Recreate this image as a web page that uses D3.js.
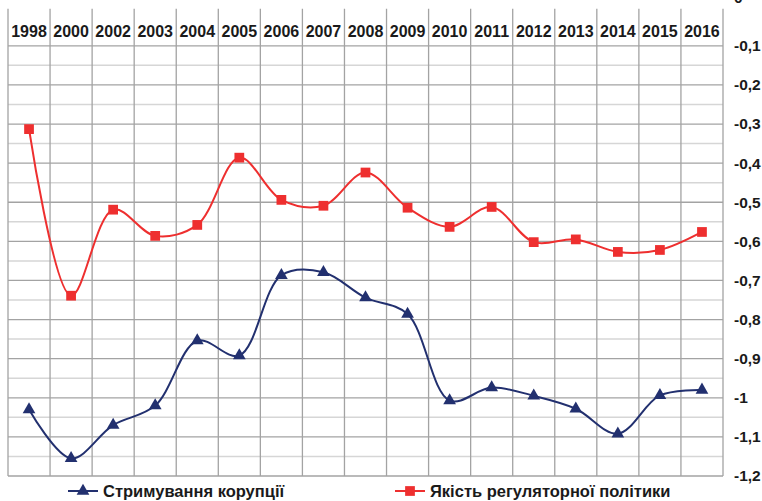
<!DOCTYPE html>
<html>
<head>
<meta charset="utf-8">
<script src="https://cdn.jsdelivr.net/npm/d3@7"></script>
<style>
  body { margin: 0; background: #fff; }
  text { font-family: "Liberation Sans", Arial, sans-serif; font-weight: bold; fill: #1a1a1a; }
</style>
</head>
<body>
<div id="chart"></div>
<script>
// Years shown in the header row
const years = ["1998", "2000", "2002", "2003", "2004", "2005", "2006", "2007", "2008",
               "2009", "2010", "2011", "2012", "2013", "2014", "2015", "2016"];

// Стримування корупції (Control of Corruption)
const corruption = [-1.03, -1.155, -1.07, -1.02, -0.854, -0.892, -0.687, -0.679, -0.744,
                    -0.786, -1.007, -0.974, -0.995, -1.028, -1.092, -0.994, -0.98];

// Якість регуляторної політики (Regulatory Quality)
const regulatory = [-0.313, -0.739, -0.519, -0.586, -0.558, -0.386, -0.494, -0.509, -0.424,
                    -0.514, -0.563, -0.512, -0.602, -0.595, -0.627, -0.622, -0.576];

const yTicks = [0, -0.1, -0.2, -0.3, -0.4, -0.5, -0.6, -0.7, -0.8, -0.9, -1, -1.1, -1.2];
const yMinor = [-0.15, -0.25, -0.35, -0.45, -0.55, -0.65, -0.75, -0.85, -0.95, -1.05, -1.15];

const seriesNames = ["Стримування корупції", "Якість регуляторної політики"];

const width = 762, height = 501;
const blue = "#22306f", red = "#ee2f2f";

const svg = d3.select("#chart").append("svg")
    .attr("width", width)
    .attr("height", height);

svg.append("rect").attr("width", width).attr("height", height).attr("fill", "#fff");

const x = d3.scaleBand().domain(years).range([8, 723]);
const y = d3.scaleLinear().domain([0, -1.2]).range([6.7, 476]);

// Minor horizontal gridlines
svg.append("g").selectAll("line")
    .data(yMinor)
    .join("line")
    .attr("x1", x.range()[0]).attr("x2", x.range()[1])
    .attr("y1", d => y(d)).attr("y2", d => y(d))
    .attr("stroke", "#d6d6d6").attr("stroke-width", 1.5);

// Major horizontal gridlines (not at 0)
svg.append("g").selectAll("line")
    .data(yTicks.filter(d => d !== 0))
    .join("line")
    .attr("x1", x.range()[0]).attr("x2", x.range()[1])
    .attr("y1", d => y(d)).attr("y2", d => y(d))
    .attr("stroke", "#a3a3a3").attr("stroke-width", 1.3);

// Vertical gridlines at column edges
const edges = years.map(d => x(d)).concat([x.range()[1]]);
svg.append("g").selectAll("line")
    .data(edges)
    .join("line")
    .attr("x1", d => d).attr("x2", d => d)
    .attr("y1", y(0) + 2).attr("y2", y(-1.2))
    .attr("stroke", "#a3a3a3").attr("stroke-width", 1.3);

// Year labels in the header row
svg.append("g").selectAll("text")
    .data(years)
    .join("text")
    .attr("x", d => x(d) + x.bandwidth() / 2)
    .attr("y", 37)
    .attr("text-anchor", "middle")
    .style("font-size", "16px")
    .text(d => d);

// Right value axis
const yAxis = d3.axisRight(y)
    .tickValues(yTicks)
    .tickSize(0)
    .tickPadding(11)
    .tickFormat(d => String(d).replace(".", ","));

const yAxisG = svg.append("g")
    .attr("transform", `translate(${x.range()[1]},0)`)
    .call(yAxis);
yAxisG.select(".domain").remove();
yAxisG.selectAll("text")
    .attr("text-anchor", "start")
    .attr("fill", "#1a1a1a")
    .style("font-size", "15.5px")
    .style("font-family", "'Liberation Sans', Arial, sans-serif")
    .style("font-weight", "bold");
// the top "0" label sits partly above the picture edge
yAxisG.selectAll(".tick").filter(d => d === 0).select("text").attr("dy", "-0.3em");

// Lines
const line = d3.line()
    .x((d, i) => x(years[i]) + x.bandwidth() / 2)
    .y(d => y(d))
    .curve(d3.curveCatmullRom.alpha(0.5));

svg.append("path")
    .datum(regulatory)
    .attr("d", line)
    .attr("fill", "none")
    .attr("stroke", red)
    .attr("stroke-width", 2);

svg.append("path")
    .datum(corruption)
    .attr("d", line)
    .attr("fill", "none")
    .attr("stroke", blue)
    .attr("stroke-width", 2);

// Markers
const square = d3.symbol().type(d3.symbolSquare).size(95);
const triangle = d3.symbol().type(d3.symbolTriangle).size(70);

svg.append("g").selectAll("path")
    .data(regulatory)
    .join("path")
    .attr("transform", (d, i) => `translate(${x(years[i]) + x.bandwidth() / 2},${y(d)})`)
    .attr("d", square)
    .attr("fill", red);

svg.append("g").selectAll("path")
    .data(corruption)
    .join("path")
    .attr("transform", (d, i) => `translate(${x(years[i]) + x.bandwidth() / 2},${y(d)})`)
    .attr("d", triangle)
    .attr("fill", blue);

// Legend
const legend = [
    { name: seriesNames[0], color: blue, symbol: triangle, x: 68 },
    { name: seriesNames[1], color: red, symbol: square, x: 395 }
];
const legendG = svg.append("g").selectAll("g")
    .data(legend)
    .join("g")
    .attr("transform", d => `translate(${d.x},491)`);

legendG.append("line")
    .attr("x1", 0).attr("x2", 30)
    .attr("stroke", d => d.color).attr("stroke-width", 2);
legendG.append("path")
    .attr("transform", "translate(15,0)")
    .attr("d", d => d.symbol())
    .attr("fill", d => d.color);
legendG.append("text")
    .attr("x", 35)
    .attr("y", 6)
    .style("font-size", "16.5px")
    .text(d => d.name);
</script>
</body>
</html>
